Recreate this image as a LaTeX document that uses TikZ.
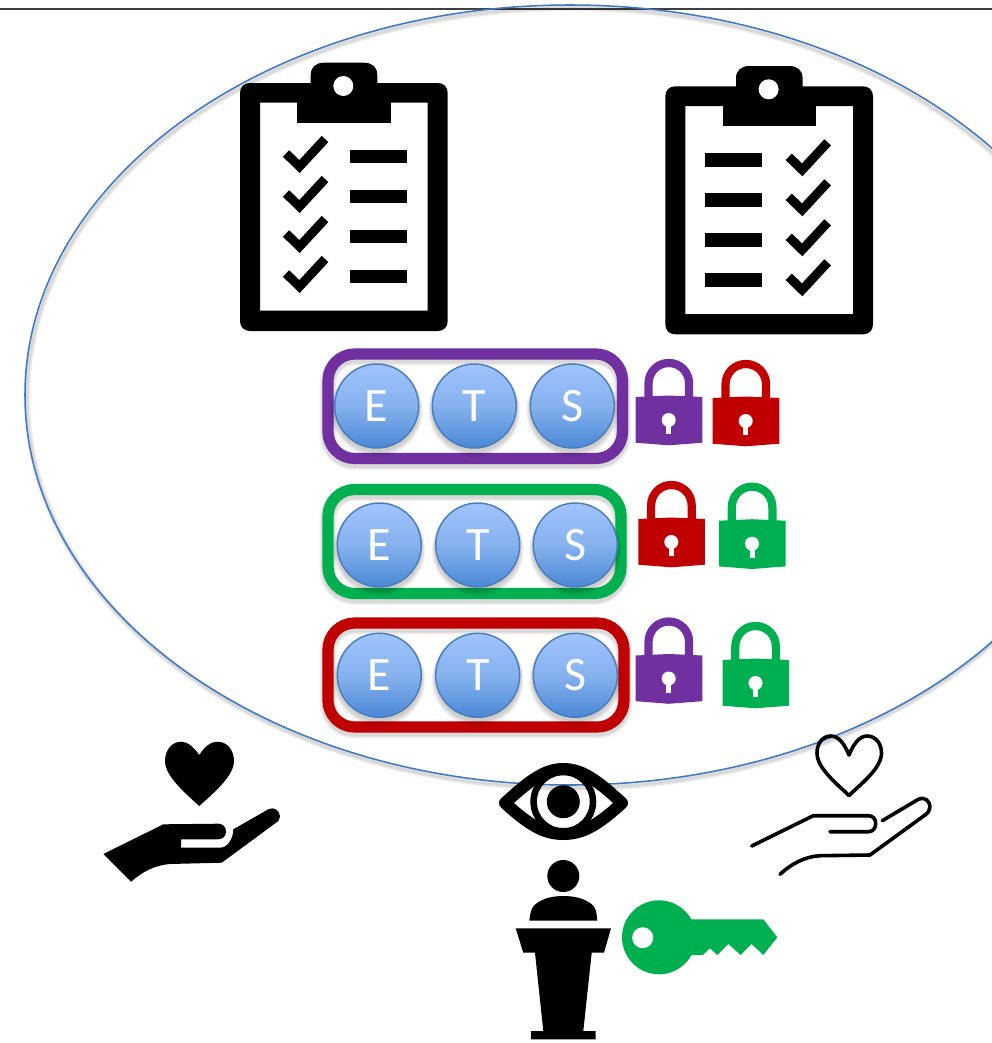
\documentclass[tikz,border=0pt]{standalone}
\usepackage{fontspec}
\setmainfont{Carlito}
\usetikzlibrary{calc}
\definecolor{ppurple}{HTML}{7030A0}
\definecolor{rred}{HTML}{C00000}
\definecolor{ggreen}{HTML}{00B050}
\definecolor{ringblue}{HTML}{4A7EBB}
\definecolor{curveblue}{HTML}{4079C2}
\definecolor{balltop}{HTML}{A0C4FF}
\definecolor{ballmid}{HTML}{86B2EE}
\definecolor{ballbot}{HTML}{4A88D6}
\tikzset{
  ball/.style={circle,minimum size=63pt,inner sep=0pt,draw=ringblue,line width=1.1pt,
    top color=balltop,bottom color=ballbot,middle color=ballmid,text=white,font=\fontsize{36}{36}\selectfont},
  frame/.style={line width=8.4pt,rounded corners=20pt},
  shade/.style={black,opacity=0.05},
  checkmark/.style={line width=6.8pt,miter limit=10},
  padlock/.pic={
    \fill[#1] (0,38) -- (33,36.5) -- (66.6,38) -- (66.6,83.7) -- (33,86.3) -- (0,83.7) -- cycle;
    \draw[#1,line width=6.2pt] (12.8,40) -- (12.8,24.7) .. controls (12.8,13.1) and (21.6,4) .. (33.1,4)
       .. controls (44.6,4) and (53.4,13.1) .. (53.4,24.7) -- (53.4,40);
    \fill[white] (33,61) circle[radius=7];
    \fill[white] (30.5,62) rectangle (35.5,75);
  },
  board/.pic={
    \fill[black,even odd rule,rounded corners=0pt]
      (0,10) .. controls (0,4) and (4,0) .. (10,0) -- (70.7,0) -- (70.7,-8)
      .. controls (70.7,-16) and (76,-20.3) .. (84,-20.3) -- (124,-20.3)
      .. controls (132,-20.3) and (137.3,-16) .. (137.3,-8) -- (137.3,0) -- (197.7,0)
      .. controls (203.7,0) and (207.7,4) .. (207.7,10) -- (207.7,238)
      .. controls (207.7,244) and (203.7,248) .. (197.7,248) -- (10,248)
      .. controls (4,248) and (0,244) .. (0,238) -- cycle
      (20,19.7) rectangle (187.7,227.7);
    \fill[black] (57.3,10) rectangle (150.7,40);
    \fill[white] (103.3,3) circle[radius=10];
  },
  checks/.pic={
    \foreach \k in {0,40,80,120}{
      \draw[black,checkmark] (0,\k) -- (13.5,13+\k) -- (39,-14.5+\k);
    }
  },
  bars/.pic={
    \foreach \k in {0,40,80,120}{
      \fill[black] (0,\k) rectangle (57,13.4+\k);
    }
  }
}
\newcommand{\ballshadow}[2]{%
  \foreach \rr/\dd in {46/5,45/4,44/4,43/3}{\fill[shade] (#1,#2+\dd) circle[radius=\rr];}%
}
\newcommand{\frameshadow}[4]{%
  \foreach \ww in {13,11,9.5}{\draw[shade,line width=\ww pt,rounded corners=20pt] (#1,#3+3) rectangle (#2,#4+3);}%
}
\begin{document}
\begin{tikzpicture}[x=0.75pt,y=-0.75pt]
\useasboundingbox (0,0) rectangle (992,1043);
\clip (0,0) rectangle (992,1043);
\fill[white] (0,0) rectangle (992,1043);

% top rule and big ellipse
\draw[black!75,line width=0.9pt] (0,9) -- (992,9);
\foreach \ww in {5,3.5,2}{\draw[shade,line width=\ww pt] (570,398) ellipse[x radius=543,y radius=390];}
\draw[curveblue,line width=1.15pt] (570,395) ellipse[x radius=545,y radius=390];

% clipboards
\pic at (240,83) {board};
\pic at (665.3,86.3) {board};
\pic at (286,153.5) {checks};
\pic at (350.3,150) {bars};
\pic at (705.3,153.3) {bars};
\pic at (788.7,156.8) {checks};

% purple row
\frameshadow{328}{622.5}{354}{458.5}
\draw[frame,ppurple] (328,354) rectangle (622.5,458.5);
\ballshadow{376.7}{406}\ballshadow{474.3}{406}\ballshadow{572.3}{406}
\node[ball] (e1) at (376.7,406) {E};
\node[ball] (t1) at (474.3,406) {T};
\node[ball] (s1) at (572.3,406) {S};
% green row
\frameshadow{328}{621}{489.5}{593.5}
\draw[frame,ggreen] (328,489.5) rectangle (621,593.5);
\ballshadow{379.3}{545}\ballshadow{477.7}{545}\ballshadow{575.3}{545}
\node[ball] (e2) at (379.3,545) {E};
\node[ball] (t2) at (477.7,545) {T};
\node[ball] (s2) at (575.3,545) {S};
% red row
\frameshadow{328}{624}{623}{727}
\draw[frame,rred] (328,623) rectangle (624,727);
\ballshadow{379.3}{675.3}\ballshadow{477.7}{675.3}\ballshadow{575.3}{675.3}
\node[ball] (e3) at (379.3,675.3) {E};
\node[ball] (t3) at (477.7,675.3) {T};
\node[ball] (s3) at (575.3,675.3) {S};

% locks
\pic at (635.7,359) {padlock=ppurple};
\pic at (712.7,360) {padlock=rred};
\pic at (638.3,481) {padlock=rred};
\pic at (719,482.7) {padlock=ggreen};
\pic at (635.7,617.5) {padlock=ppurple};
\pic at (722.5,622) {padlock=ggreen};

% solid heart and hand
\fill[black] (199.3,755) .. controls (193,746) and (187,741.7) .. (181,741.7)
  .. controls (172,741.7) and (165,750) .. (165,761)
  .. controls (165,776) and (185,793) .. (199.3,806)
  .. controls (213.6,793) and (234,776) .. (234,761)
  .. controls (234,750) and (227,741.7) .. (217.6,741.7)
  .. controls (211,741.7) and (205,746) .. (199.3,755) -- cycle;
\fill[black] (103.3,854) -- (163.3,824.3) -- (218.3,823.7)
  .. controls (223,823.7) and (226,827) .. (226,831.5)
  .. controls (226,836) and (223,839.3) .. (218,839.3)
  -- (181,839.3) -- (181,847.7) -- (220,847.7)
  .. controls (228,847.7) and (233.3,838) .. (233.3,829.3)
  -- (268.3,809.3) .. controls (274,806) and (280,811) .. (280,816.7)
  .. controls (280,819.5) and (278,821.5) .. (275,823.5)
  -- (221.7,862.7) -- (170,864) .. controls (155,865) and (142,872) .. (131,881.7) -- cycle;

% eye
\begin{scope}
\clip (505,803) .. controls (530,780) and (545,769) .. (563.3,769)
  .. controls (582,769) and (597,780) .. (622,803)
  .. controls (597,826) and (582,834) .. (563.3,834)
  .. controls (545,834) and (530,826) .. (505,803) -- cycle;
\draw[black,line width=4.9pt] (563.3,801.7) circle[radius=29.7];
\end{scope}
\draw[black,line width=9pt,line join=round] (505,803) .. controls (530,780) and (545,769) .. (563.3,769)
  .. controls (582,769) and (597,780) .. (622,803)
  .. controls (597,826) and (582,834) .. (563.3,834)
  .. controls (545,834) and (530,826) .. (505,803) -- cycle;
\fill[black] (563.3,801.7) circle[radius=16.5];

% speaker and lectern
\fill[black] (563.3,876) circle[radius=16];
\fill[black] (529.3,920.7) .. controls (530.5,912) and (531,908) .. (535,904.5)
  .. controls (543,898) and (553,896) .. (563.3,896)
  .. controls (574,896) and (584,898) .. (592,904.5)
  .. controls (596,908) and (596.5,912) .. (597.3,920.7) -- cycle;
\fill[black] (515.7,928.3) -- (611,928.3) -- (604,952.7) -- (591.7,952.7) -- (583.3,1031)
  -- (595.7,1031) -- (595.7,1039.3) -- (531,1039.3) -- (531,1031) -- (543.3,1031)
  -- (535,952.7) -- (523.3,952.7) -- cycle;

% key
\fill[ggreen] (659,937.3) circle[radius=37];
\fill[ggreen] (685,919.3) -- (763.3,919.3) -- (777.3,937.3) -- (763.3,955) -- (751.7,944)
  -- (740.7,955) -- (728.3,944) -- (717.3,955) -- (710,948.3) -- (702.7,955) -- (685,955) -- cycle;
\fill[white] (642.7,937.7) circle[radius=10.5];

% outline heart and hand
\begin{scope}[black,line width=2.7pt,line cap=round,line join=round]
\draw (849,755) .. controls (845,745) and (839,736) .. (831,736)
  .. controls (822,736) and (817,744) .. (817,753)
  .. controls (817,768) and (836,783) .. (849,795.5)
  .. controls (862,783) and (881.5,768) .. (881.5,753)
  .. controls (881.5,744) and (876,736) .. (867,736)
  .. controls (859,736) and (853,745) .. (849,755);
\draw (751.7,846) -- (813.3,815.7) -- (868.3,815.7)
  .. controls (873,815.7) and (875.7,819) .. (875.7,823.5)
  .. controls (875.7,828) and (873,831.7) .. (868.3,831.7) -- (830,831.7);
\draw (882.3,820.7) -- (918.3,799.3) .. controls (924,796) and (930,801) .. (930,806.7)
  .. controls (930,810) and (928,813) .. (925,815) -- (870,855) -- (820,855.7)
  .. controls (805,856.5) and (791,864) .. (780,874.3);
\end{scope}
\end{tikzpicture}
\end{document}
